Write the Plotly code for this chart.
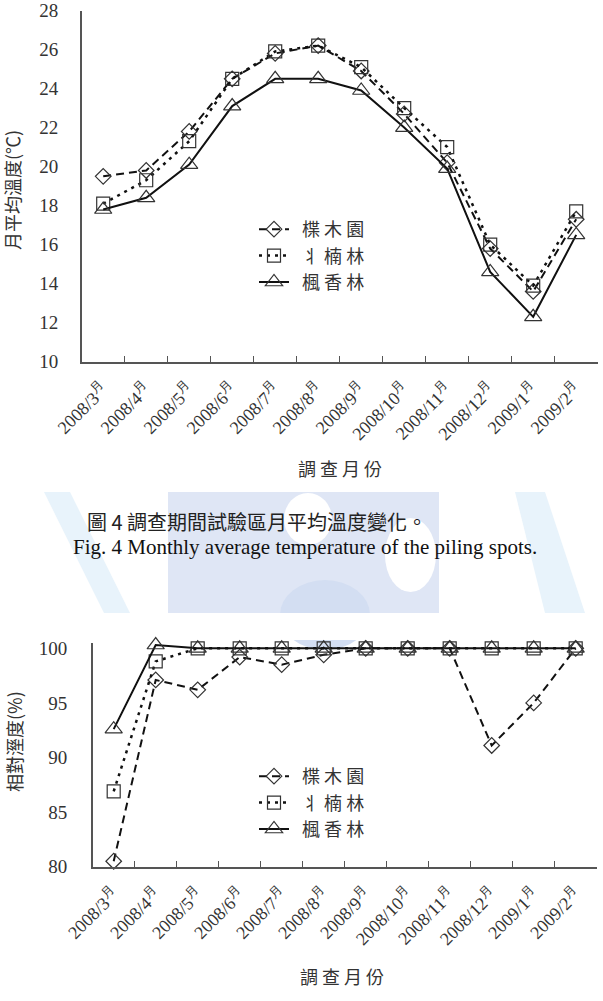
import plotly.graph_objects as go

W, H = 603, 1001

months = ["2008/3", "2008/4", "2008/5", "2008/6", "2008/7", "2008/8",
          "2008/9", "2008/10", "2008/11", "2008/12", "2009/1", "2009/2"]
month_labels = [m + "<sup>月</sup>" for m in months]

series_names = ["楪 木 園", "丬 楠 林", "楓 香 林"]

# Fig.4 monthly average temperature (°C)
temp_a = [19.5, 19.8, 21.8, 24.5, 25.8, 26.2, 24.9, 22.7, 20.2, 15.8, 13.6, 17.3]
temp_b = [18.1, 19.3, 21.3, 24.5, 25.9, 26.2, 25.1, 23.0, 21.0, 16.0, 13.9, 17.7]
temp_c = [17.8, 18.4, 20.1, 23.1, 24.5, 24.5, 23.9, 22.0, 19.9, 14.6, 12.3, 16.5]

# relative humidity (%)
rh_a = [80.5, 97.1, 96.2, 99.2, 98.5, 99.4, 100, 100, 100, 91.1, 95.0, 100]
rh_b = [86.9, 98.8, 100, 100, 100, 100, 100, 100, 100, 100, 100, 100]
rh_c = [92.6, 100.3, 100, 100, 100, 100, 100, 100, 100, 100, 100, 100]

def PX(x):
    return x / W

def PY(y):
    return 1 - y / H

styles = [
    dict(dash="8px,5px", width=2, symbol="diamond-open", size=12),
    dict(dash="3px,5px", width=2.5, symbol="square-open", size=13),
    dict(dash="solid", width=2, symbol="triangle-up-open", size=15),
]

fig = go.Figure()

def add_series(values, xa, ya, legend):
    for name, vals, st in zip(series_names, values, styles):
        fig.add_trace(go.Scatter(
            x=months, y=vals, name="  " + name, mode="lines+markers",
            xaxis=xa, yaxis=ya, legend=legend, cliponaxis=False,
            line=dict(color="#111111", width=st["width"], dash=st["dash"]),
            marker=dict(symbol=st["symbol"], size=st["size"], color="#333333",
                        line=dict(width=1.2, color="#333333")),
        ))

add_series([temp_a, temp_b, temp_c], "x", "y", "legend")
add_series([rh_a, rh_b, rh_c], "x2", "y2", "legend2")

serif = "Liberation Serif"
cjk = "Noto Sans CJK TC"

def xaxis_cfg(domain, anchor):
    return dict(
        domain=domain, anchor=anchor, type="category", automargin=False,
        range=[-0.5, 11.5], tickson="boundaries", ticks="inside", ticklen=6,
        tickcolor="#555555", tickwidth=1.2,
        showline=True, linecolor="#555555", linewidth=1.5,
        showgrid=False, zeroline=False,
        tickvals=months, ticktext=month_labels, tickangle=-45,
        tickfont=dict(family=serif, size=18, color="#333333"),
        ticklabelstandoff=8, fixedrange=True, ticklabeloverflow="allow",
    )

def yaxis_cfg(domain, anchor, rng, dtick, standoff):
    return dict(
        domain=domain, anchor=anchor, range=rng, dtick=dtick, automargin=False,
        showline=True, linecolor="#555555", linewidth=1.5,
        showgrid=False, zeroline=False, ticks="",
        tickfont=dict(family=serif, size=19, color="#333333"),
        ticklabelstandoff=standoff, fixedrange=True, ticklabeloverflow="allow",
    )

# chart 2: 100 at y=648.3px, 80 at y=866.7px; range slightly above 100 so top markers are not hidden
rh_top = 100.5
rh_px_per = (866.7 - 648.3) / 20.0
rh_top_px = 648.3 - (rh_top - 100) * rh_px_per

fig.update_layout(
    width=W, height=H, margin=dict(l=0, r=0, t=0, b=0, autoexpand=False),
    paper_bgcolor="white", plot_bgcolor="rgba(0,0,0,0)",
    xaxis=xaxis_cfg([PX(81.7), PX(597.7)], "y"),
    yaxis=yaxis_cfg([PY(361.7), PY(10.5)], "x", [10, 28], 2, 18),
    xaxis2=xaxis_cfg([PX(92.7), PX(596.7)], "y2"),
    yaxis2=yaxis_cfg([PY(866.7), PY(rh_top_px)], "x2", [80, rh_top], 5, 20),
    legend=dict(x=PX(254), y=PY(211), xanchor="left", yanchor="top",
                bgcolor="rgba(0,0,0,0)", font=dict(family=cjk, size=18, color="#333333"),
                tracegroupgap=0, itemwidth=30),
    legend2=dict(x=PX(254), y=PY(758), xanchor="left", yanchor="top",
                 bgcolor="rgba(0,0,0,0)", font=dict(family=cjk, size=18, color="#333333"),
                 tracegroupgap=0, itemwidth=30),
    showlegend=True,
)

# faint watermark (scanned page background)
wm = "#dfe6f5"
wm2 = "#e8f3fb"
shapes = [
    dict(type="path", xref="paper", yref="paper", layer="below", line=dict(width=0), fillcolor=wm2,
         path=f"M {PX(44)},{PY(492)} L {PX(70)},{PY(492)} L {PX(130)},{PY(613)} L {PX(104)},{PY(613)} Z"),
    dict(type="path", xref="paper", yref="paper", layer="below", line=dict(width=0), fillcolor=wm2,
         path=f"M {PX(515)},{PY(492)} L {PX(545)},{PY(492)} L {PX(585)},{PY(613)} L {PX(545)},{PY(613)} Z"),
    dict(type="rect", xref="paper", yref="paper", layer="below", line=dict(width=0), fillcolor=wm,
         x0=PX(168), x1=PX(439), y0=PY(613), y1=PY(492)),
    dict(type="circle", xref="paper", yref="paper", layer="below", line=dict(width=0), fillcolor="white",
         x0=PX(284), x1=PX(332), y0=PY(545), y1=PY(493)),
    dict(type="circle", xref="paper", yref="paper", layer="below", line=dict(width=0), fillcolor="white",
         x0=PX(385), x1=PX(436), y0=PY(592), y1=PY(518)),
    dict(type="circle", xref="paper", yref="paper", layer="below", line=dict(width=0), fillcolor="#d3def2",
         x0=PX(280), x1=PX(370), y0=PY(650), y1=PY(580)),
    dict(type="rect", xref="paper", yref="paper", layer="below", line=dict(width=0), fillcolor="white",
         x0=0, x1=1, y0=PY(640), y1=PY(613)),
]
fig.update_layout(shapes=shapes)

ann_font_cjk = dict(family=cjk, size=18, color="#333333")
annotations = [
    dict(text="月平均溫度(℃)", x=PX(12), y=PY(190), textangle=-90, font=ann_font_cjk),
    dict(text="相對溼度(%)", x=PX(14), y=PY(742), textangle=-90, font=ann_font_cjk),
    dict(text="調 查 月 份", x=PX(340), y=PY(468), font=ann_font_cjk),
    dict(text="調 查 月 份", x=PX(342), y=PY(976), font=ann_font_cjk),
    dict(text="圖 4 調查期間試驗區月平均溫度變化。", x=PX(85), y=PY(521), xanchor="left",
         font=dict(family=cjk, size=20, color="#222222")),
    dict(text="Fig. 4 Monthly average temperature of the piling spots.", x=PX(305), y=PY(547),
         font=dict(family=serif, size=21, color="#111111")),
]
for a in annotations:
    a.update(xref="paper", yref="paper", showarrow=False)
    a.setdefault("xanchor", "center")
    a.setdefault("yanchor", "middle")
fig.update_layout(annotations=annotations)

fig.write_html("out.html")
